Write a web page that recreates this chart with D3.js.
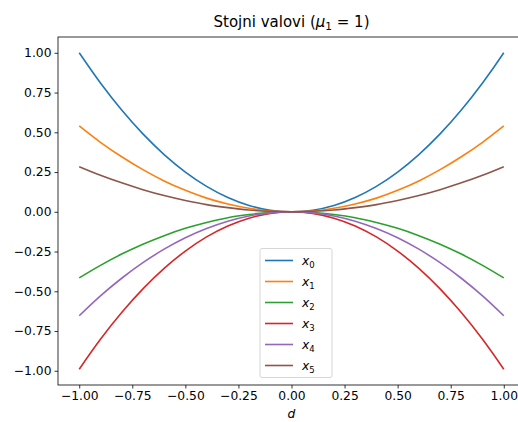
<!DOCTYPE html>
<html><head><meta charset="utf-8">
<script src="https://cdn.jsdelivr.net/npm/d3@7"></script>
<style>body{margin:0;background:#fff}text{font-family:"DejaVu Sans",sans-serif}</style>
</head><body><svg id="c" width="518" height="422"></svg>
<script>
const dValues = [-1,-0.9,-0.8,-0.7,-0.6,-0.5,-0.4,-0.3,-0.2,-0.1,0,0.1,0.2,0.3,0.4,0.5,0.6,0.7,0.8,0.9,1];
const x0 = [1,0.81,0.64,0.49,0.36,0.25,0.16,0.09,0.04,0.01,0,0.01,0.04,0.09,0.16,0.25,0.36,0.49,0.64,0.81,1];
const x1 = [0.54,0.437,0.346,0.265,0.194,0.135,0.086,0.049,0.022,0.005,0,0.005,0.022,0.049,0.086,0.135,0.194,0.265,0.346,0.437,0.54];
const x2 = [-0.416,-0.337,-0.266,-0.204,-0.150,-0.104,-0.067,-0.037,-0.017,-0.004,0,-0.004,-0.017,-0.037,-0.067,-0.104,-0.150,-0.204,-0.266,-0.337,-0.416];
const x3 = [-0.99,-0.802,-0.634,-0.485,-0.356,-0.247,-0.158,-0.089,-0.040,-0.010,0,-0.010,-0.040,-0.089,-0.158,-0.247,-0.356,-0.485,-0.634,-0.802,-0.99];
const x4 = [-0.654,-0.529,-0.418,-0.320,-0.235,-0.163,-0.105,-0.059,-0.026,-0.007,0,-0.007,-0.026,-0.059,-0.105,-0.163,-0.235,-0.320,-0.418,-0.529,-0.654];
const x5 = [0.284,0.230,0.182,0.139,0.102,0.071,0.045,0.026,0.011,0.003,0,0.003,0.011,0.026,0.045,0.071,0.102,0.139,0.182,0.230,0.284];
const seriesNames = ["0","1","2","3","4","5"];
const seriesColors = ["#1f77b4","#ff7f0e","#2ca02c","#d62728","#9467bd","#8c564b"];
const xTicks = [-1,-0.75,-0.5,-0.25,0,0.25,0.5,0.75,1];
const yTicks = [-1,-0.75,-0.5,-0.25,0,0.25,0.5,0.75,1];
const allSeries = [x0,x1,x2,x3,x4,x5];

const svg = d3.select("#c");
const L=58, R=525, T=37, B=385;
const x = d3.scaleLinear().domain([-1.1,1.1]).range([L,R]);
const y = d3.scaleLinear().domain([-1.0895,1.0995]).range([B,T]);
const fs = 12.3;

svg.append("defs").append("clipPath").attr("id","cp").append("rect")
  .attr("x",L).attr("y",T).attr("width",R-L).attr("height",B-T);

const line = d3.line().x((d,i)=>x(dValues[i])).y(d=>y(d)).curve(d3.curveCatmullRom);
const g = svg.append("g").attr("clip-path","url(#cp)");
allSeries.forEach((s,k)=>{
  g.append("path").attr("d",line(s)).attr("fill","none").attr("stroke",seriesColors[k]).attr("stroke-width",1.6);
});

const fmt = d3.format(".2f");
const minus = v => fmt(v).replace("-","\u2212");
const xa = svg.append("g").attr("transform",`translate(0,${B})`)
  .call(d3.axisBottom(x).tickValues(xTicks).tickFormat(minus).tickSize(3.5).tickPadding(3));
const ya = svg.append("g").attr("transform",`translate(${L},0)`)
  .call(d3.axisLeft(y).tickValues(yTicks).tickFormat(minus).tickSize(3.5).tickPadding(3));
[xa,ya].forEach(a=>{a.select(".domain").remove();a.selectAll("text").attr("font-size",fs).attr("fill","#000").style("font-family","DejaVu Sans");a.selectAll("line").attr("stroke","#000").attr("stroke-width",0.8);});
svg.append("rect").attr("x",L).attr("y",T).attr("width",R-L).attr("height",B-T)
  .attr("fill","none").attr("stroke","#000").attr("stroke-width",0.8);

// title
const t = svg.append("text").attr("x",(L+R)/2).attr("y",27).attr("text-anchor","middle").attr("font-size",15);
t.append("tspan").text("Stojni valovi (");
t.append("tspan").text("\u03bc").attr("font-style","italic");
t.append("tspan").text("1").attr("font-size",10.5).attr("dy",3);
t.append("tspan").text(" = 1)").attr("dy",-3);

svg.append("text").attr("x",(L+R)/2).attr("y",418).attr("text-anchor","middle").attr("font-size",fs).attr("font-style","italic").text("d");

// legend
const lg = svg.append("g");
lg.append("rect").attr("x",260).attr("y",248.5).attr("width",72).attr("height",129).attr("rx",2)
  .attr("fill","#fff").attr("fill-opacity",0.8).attr("stroke","#ccc").attr("stroke-width",0.8);
seriesNames.forEach((n,k)=>{
  const yy = 260.5 + k*21;
  lg.append("line").attr("x1",265).attr("x2",293).attr("y1",yy).attr("y2",yy).attr("stroke",seriesColors[k]).attr("stroke-width",1.6);
  const tx = lg.append("text").attr("x",302).attr("y",yy+4).attr("font-size",fs);
  tx.append("tspan").text("x").attr("font-style","italic");
  tx.append("tspan").text(n).attr("font-size",8.5).attr("dy",3);
});
</script></body></html>
